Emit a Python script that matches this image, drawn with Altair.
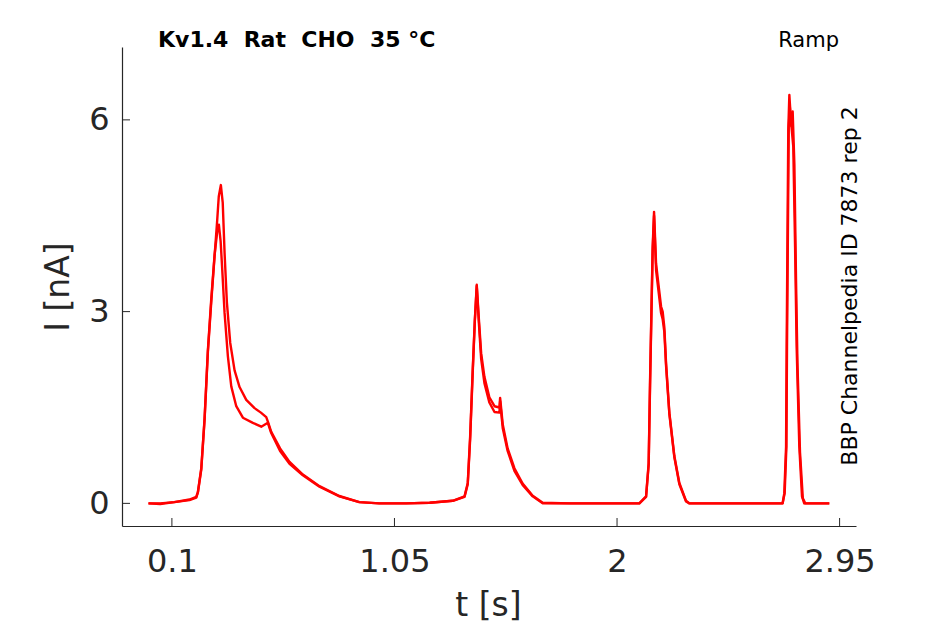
import altair as alt
import pandas as pd

# ---- data (time in s, current in nA) ----
t_a = [0.0, 0.05, 0.11, 0.175, 0.204, 0.211, 0.2254, 0.2395, 0.2536, 0.268, 0.282, 0.2928, 0.300, 0.309,
       0.317, 0.3248, 0.3346, 0.349, 0.3675, 0.3888, 0.4174, 0.4528, 0.48, 0.5027, 0.5096, 0.524, 0.5617,
       0.6021, 0.659, 0.730, 0.8148, 0.900, 0.985, 1.10, 1.20, 1.2988, 1.349, 1.3628, 1.373, 1.384, 1.393,
       1.4012, 1.410, 1.420, 1.434, 1.455, 1.477, 1.498, 1.501, 1.512, 1.533, 1.562, 1.597, 1.640, 1.6828,
       1.80, 1.95, 2.0953, 2.1239, 2.1350, 2.1410, 2.1465, 2.1521, 2.1580, 2.1666, 2.1777, 2.1879, 2.1948,
       2.2020, 2.2093, 2.2233, 2.2447, 2.2660, 2.2946, 2.3087, 2.50, 2.7067, 2.714, 2.7215, 2.724, 2.7283,
       2.731, 2.7355, 2.742, 2.7523, 2.760, 2.7666, 2.778, 2.7895, 2.799, 2.906]
i_a = [0.0, 0.0, 0.02, 0.05, 0.09, 0.17, 0.53, 1.31, 2.37, 3.15, 3.86, 4.40, 4.80, 4.98,
       4.70, 3.92, 3.15, 2.51, 2.08, 1.82, 1.62, 1.49, 1.42, 1.35, 1.28, 1.12, 0.86,
       0.65, 0.45, 0.27, 0.115, 0.02, 0.0, 0.0, 0.01, 0.04, 0.11, 0.32, 1.05, 2.09, 2.87,
       3.42, 2.90, 2.35, 1.98, 1.66, 1.52, 1.50, 1.65, 1.24, 0.86, 0.55, 0.31, 0.12, 0.01,
       0.0, 0.0, 0.0, 0.11, 0.63, 1.93, 2.97, 4.01, 4.56, 3.75, 3.40, 3.08, 3.00,
       2.75, 2.19, 1.42, 0.74, 0.32, 0.04, 0.0, 0.0, 0.0, 0.16, 0.89, 2.45, 4.54,
       5.84, 6.39, 6.00, 5.58, 4.01, 2.45, 0.89, 0.11, 0.0, 0.0]

t_b = [0.0, 0.05, 0.11, 0.175, 0.204, 0.211, 0.2254, 0.2395, 0.2536, 0.268, 0.282, 0.2935, 0.3005, 0.308,
       0.315, 0.3248, 0.339, 0.3534, 0.3747, 0.403, 0.4456, 0.4814, 0.5096, 0.524, 0.5617, 0.6021, 0.659,
       0.730, 0.8148, 0.900, 0.985, 1.10, 1.20, 1.2988, 1.349, 1.3628, 1.373, 1.384, 1.393, 1.4012, 1.410,
       1.420, 1.434, 1.455, 1.477, 1.498, 1.501, 1.512, 1.533, 1.562, 1.597, 1.640, 1.6828, 1.80, 1.95,
       2.0953, 2.1239, 2.1350, 2.1410, 2.1465, 2.1521, 2.1580, 2.1666, 2.1777, 2.1879, 2.1948, 2.2020,
       2.2093, 2.2233, 2.2447, 2.2660, 2.2946, 2.3087, 2.50, 2.7067, 2.7155, 2.723, 2.7255, 2.730, 2.733,
       2.7376, 2.744, 2.7497, 2.757, 2.764, 2.770, 2.781, 2.793, 2.8035, 2.906]
i_b = [0.0, -0.01, 0.02, 0.06, 0.10, 0.18, 0.55, 1.33, 2.40, 3.20, 3.88, 4.25, 4.36, 4.10,
       3.65, 2.98, 2.30, 1.83, 1.52, 1.34, 1.26, 1.20, 1.26, 1.10, 0.82, 0.62, 0.44,
       0.26, 0.11, 0.02, 0.0, 0.0, 0.01, 0.04, 0.10, 0.30, 1.00, 2.05, 2.85, 3.40, 2.84,
       2.26, 1.88, 1.58, 1.43, 1.42, 1.60, 1.18, 0.82, 0.51, 0.29, 0.11, 0.0, 0.0, 0.0,
       0.0, 0.10, 0.60, 1.85, 2.90, 3.95, 4.50, 3.65, 3.30, 2.98, 2.88, 2.68,
       2.15, 1.40, 0.72, 0.30, 0.03, 0.0, 0.0, 0.0, 0.16, 0.89, 2.45, 4.54, 5.90,
       6.20, 5.90, 6.13, 5.30, 3.50, 2.20, 0.80, 0.08, 0.0, 0.0]

x_ticks = [0.1, 1.05, 2, 2.95]
y_ticks = [0, 3, 6]
NB = "\u00a0"
title_text = [f"Kv1.4{NB}{NB}Rat{NB}{NB}CHO{NB}{NB}35{NB}°C"]
protocol_text = ["Ramp"]
source_text = ["BBP Channelpedia ID 7873 rep 2"]

# ---- tables ----
rows = []
for name, ts, vs in (("a", t_a, i_a), ("b", t_b, i_b)):
    for k, (tt, vv) in enumerate(zip(ts, vs)):
        rows.append({"trace": name, "k": k, "t": tt, "I": vv})
traces = pd.DataFrame(rows)

INK = "#262626"
FONT = "DejaVu Sans"
W, H = 734, 479
xs = alt.Scale(domain=[-0.113, 3.02], nice=False, zero=False)
ys = alt.Scale(domain=[-0.354, 7.14], nice=False, zero=False)

x_axis = alt.Axis(
    values=x_ticks, labelExpr="format(datum.value, '.3~g')", tickSize=0, labelPadding=45,
    labelBaseline="alphabetic", labelFlush=False, grid=False, title="t [s]", titleX=366, titleY=89,
    titleBaseline="alphabetic", titleAlign="center")
y_axis = alt.Axis(
    values=y_ticks, labelExpr="format(datum.value, '.3~g')", tickSize=0, labelPadding=13,
    grid=False, title="I [nA]", titleX=-64, titleY=H / 2, titleBaseline="middle", titleAlign="center")

lines = alt.Chart(traces).mark_line(color="#ff0000", strokeWidth=2.4, strokeJoin="round").encode(
    x=alt.X("t:Q", scale=xs, axis=x_axis),
    y=alt.Y("I:Q", scale=ys, axis=y_axis),
    detail="trace:N",
    order="k:Q",
)

xt = alt.Chart(pd.DataFrame({"t": x_ticks})).mark_rule(color=INK, strokeWidth=1).encode(
    x=alt.X("t:Q", scale=xs, axis=x_axis), y=alt.value(H), y2=alt.value(H - 8))
yt = alt.Chart(pd.DataFrame({"I": y_ticks})).mark_rule(color=INK, strokeWidth=1).encode(
    y=alt.Y("I:Q", scale=ys, axis=y_axis), x=alt.value(0), x2=alt.value(8))

title = alt.Chart(pd.DataFrame({"s": title_text})).mark_text(
    font=FONT, fontSize=22, fontWeight="bold", color="#000000", align="left", baseline="alphabetic"
).encode(text="s:N", x=alt.value(36), y=alt.value(0))
proto = alt.Chart(pd.DataFrame({"s": protocol_text})).mark_text(
    font=FONT, fontSize=21, color="#000000", align="right", baseline="alphabetic"
).encode(text="s:N", x=alt.value(717), y=alt.value(0))
source = alt.Chart(pd.DataFrame({"s": source_text})).mark_text(
    font=FONT, fontSize=22, color="#000000", align="center", baseline="middle", angle=270
).encode(text="s:N", x=alt.value(728), y=alt.value(239))

chart = alt.layer(lines, xt, yt, title, proto, source).properties(
    width=W, height=H,
    autosize=alt.AutoSizeParams(type="none"),
    padding={"left": 114, "top": 39, "right": 70, "bottom": 97},
    background="white",
).configure_view(stroke=None).configure_axis(
    domainColor=INK, domainWidth=1.2, labelColor=INK, titleColor=INK,
    labelFont=FONT, titleFont=FONT, labelFontSize=32, titleFontSize=33,
    titleFontWeight="normal",
)

chart.save("out.html", embed_options={"renderer": "svg", "actions": False})
